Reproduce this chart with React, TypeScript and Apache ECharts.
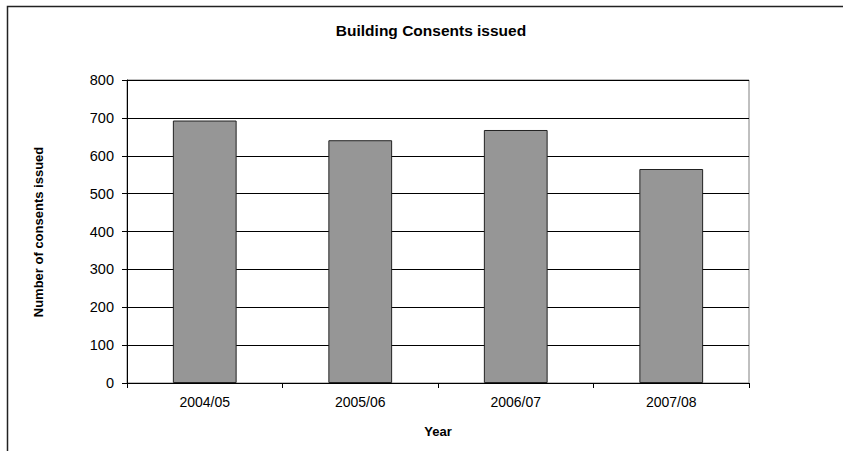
import React, { useEffect, useRef } from "react";
import * as echarts from "echarts";

const categories = ["2004/05", "2005/06", "2006/07", "2007/08"];
const consents = [693, 641, 668, 565];
const yTicks = { min: 0, max: 800, interval: 100 };
const titleText = "Building Consents issued";
const yName = "Number of consents issued";
const xName = "Year";

export default function App() {
  const ref = useRef<HTMLDivElement>(null);
  useEffect(() => {
    if (!ref.current) return;
    const chart = echarts.init(ref.current, null, { renderer: "svg" });
    const font = "Arial, 'Liberation Sans', sans-serif";
    chart.setOption({
      animation: false,
      backgroundColor: "#ffffff",
      grid: { left: 127, top: 80, right: 94, bottom: 68, show: true, borderColor: "#808080", borderWidth: 1 },
      xAxis: {
        type: "category",
        data: categories,
        axisLine: { show: true, lineStyle: { color: "#000", width: 1 } },
        axisTick: { show: true, alignWithLabel: false, length: 5, lineStyle: { color: "#000" } },
        axisLabel: { color: "#000", fontFamily: font, fontSize: 14, margin: 12 },
        splitLine: { show: false },
      },
      yAxis: {
        type: "value",
        min: yTicks.min,
        max: yTicks.max,
        interval: yTicks.interval,
        axisLine: { show: true, lineStyle: { color: "#000", width: 1 } },
        axisTick: { show: true, length: 5, lineStyle: { color: "#000" } },
        axisLabel: { color: "#000", fontFamily: font, fontSize: 14.5, margin: 13 },
        splitLine: { show: true, lineStyle: { color: "#000", width: 1 } },
      },
      series: [
        {
          type: "bar",
          data: consents,
          barCategoryGap: "59%",
          itemStyle: { color: "#969696", borderColor: "#222", borderWidth: 1 },
        },
      ],
      graphic: [
        {
          type: "rect",
          shape: { x: 7.5, y: 6.5, width: 900, height: 500 },
          style: { fill: "none", stroke: "#222", lineWidth: 1.5 },
          silent: true,
        },
        {
          type: "text",
          x: 431,
          y: 30,
          style: { text: titleText, fontFamily: font, fontSize: 15.5, fontWeight: "bold", fill: "#000", textAlign: "center", textVerticalAlign: "middle" },
        },
        {
          type: "text",
          x: 38,
          y: 232,
          rotation: Math.PI / 2,
          style: { text: yName, fontFamily: font, fontSize: 13, fontWeight: "bold", fill: "#000", textAlign: "center", textVerticalAlign: "middle" },
        },
        {
          type: "text",
          x: 438,
          y: 431,
          style: { text: xName, fontFamily: font, fontSize: 13, fontWeight: "bold", fill: "#000", textAlign: "center", textVerticalAlign: "middle" },
        },
      ],
    });
    return () => chart.dispose();
  }, []);
  return <div ref={ref} style={{ position: "absolute", left: 0, top: 0, width: 843, height: 451 }} />;
}
